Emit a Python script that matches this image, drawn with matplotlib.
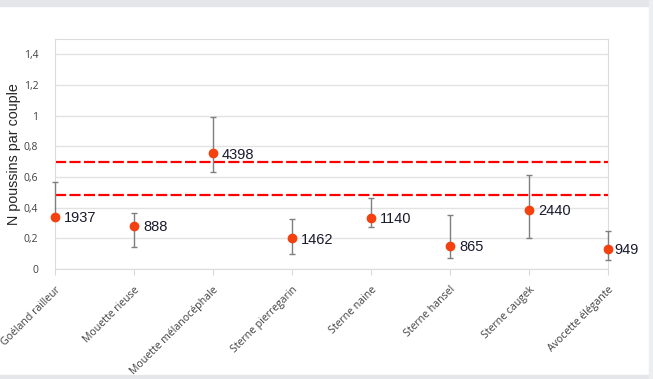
import matplotlib
matplotlib.use("Agg")
import matplotlib.pyplot as plt
from matplotlib.patches import Rectangle
from matplotlib.ticker import FuncFormatter
from matplotlib.transforms import ScaledTranslation

# ── Data ──
species = ["Goéland railleur", "Mouette rieuse", "Mouette mélanocéphale",
           "Sterne pierregarin", "Sterne naine", "Sterne hansel",
           "Sterne caugek", "Avocette élégante"]
mean = [0.34, 0.28, 0.755, 0.20, 0.335, 0.15, 0.385, 0.13]
err_low = [0.34, 0.145, 0.635, 0.095, 0.275, 0.075, 0.20, 0.06]
err_high = [0.57, 0.365, 0.99, 0.325, 0.46, 0.35, 0.61, 0.245]
n_couples = ["1937", "888", "4398", "1462", "1140", "865", "2440", "949"]
thresholds = [0.70, 0.485]

plt.rcParams["font.family"] = ["Liberation Sans", "DejaVu Sans"]
CAL = ["Open Sans", "DejaVu Sans"]  # stand-in for Calibri

fig = plt.figure(figsize=(6.53, 3.79), dpi=100)
ax = fig.add_axes([55 / 653, 1 - 269 / 379, 553 / 653, 230 / 379])

x = list(range(len(species)))
yerr = [[m - lo for m, lo in zip(mean, err_low)],
        [hi - m for m, hi in zip(mean, err_high)]]

ax.errorbar(x, mean, yerr=yerr, fmt="none", ecolor="#7f7f7f", elinewidth=1,
            capsize=2.2, capthick=1, clip_on=False, zorder=3)
ax.plot(x, mean, "o", color="#f5400f", markersize=6, clip_on=False, zorder=4)

for t in thresholds:
    ax.axhline(t, color="#ff0000", lw=1.6, ls=(0, (5, 1.5)), zorder=2)

for i, (m, lab) in enumerate(zip(mean, n_couples)):
    dx = 4.5 if i == len(species) - 1 else 6.5
    ax.annotate(lab, (i, m), xytext=(dx, -1), textcoords="offset points",
                va="center", ha="left", fontsize=10.5, color="#1a1a2e",
                annotation_clip=False)

ax.set_xlim(0, 7)
ax.set_ylim(0, 1.5)
ax.set_yticks([0, 0.2, 0.4, 0.6, 0.8, 1.0, 1.2, 1.4])
ax.yaxis.set_major_formatter(FuncFormatter(
    lambda v, p: "0" if v == 0 else ("1" if abs(v - 1) < 1e-9 else f"{v:.1f}".replace(".", ","))))
for lbl in ax.get_yticklabels():
    lbl.set_family(CAL)
ax.set_xticks(x)
ax.set_xticklabels(species, rotation=45, ha="right", va="top", rotation_mode="anchor",
                   fontsize=7.6, color="#404040", family=CAL)
shift = ScaledTranslation(6 / 100, 1 / 100, fig.dpi_scale_trans)
for lbl in ax.get_xticklabels():
    lbl.set_transform(lbl.get_transform() + shift)
ax.tick_params(axis="x", length=4, color="#d9d9d9", pad=7)
ax.tick_params(axis="y", length=0, pad=12, labelsize=7.5, labelcolor="#404040")
ax.grid(axis="y", color="#e3e3e3", lw=1)
ax.set_axisbelow(True)
for s in ax.spines.values():
    s.set_color("#dcdcdc")
ax.set_ylabel("N poussins par couple", fontsize=10.3, color="#262626", labelpad=2)

# frame bits around the screenshot
fig.patches.append(Rectangle((0, 1 - 6 / 379), 1, 6 / 379, transform=fig.transFigure,
                             color="#e4e6ea", zorder=0))
fig.patches.append(Rectangle((0, 0), 1, 4 / 379, transform=fig.transFigure,
                             color="#e4e6ea", zorder=0))
fig.patches.append(Rectangle((649 / 653, 0), 4 / 653, 1, transform=fig.transFigure,
                             color="#eceef0", zorder=0))

fig.savefig("out.png", dpi=100)
